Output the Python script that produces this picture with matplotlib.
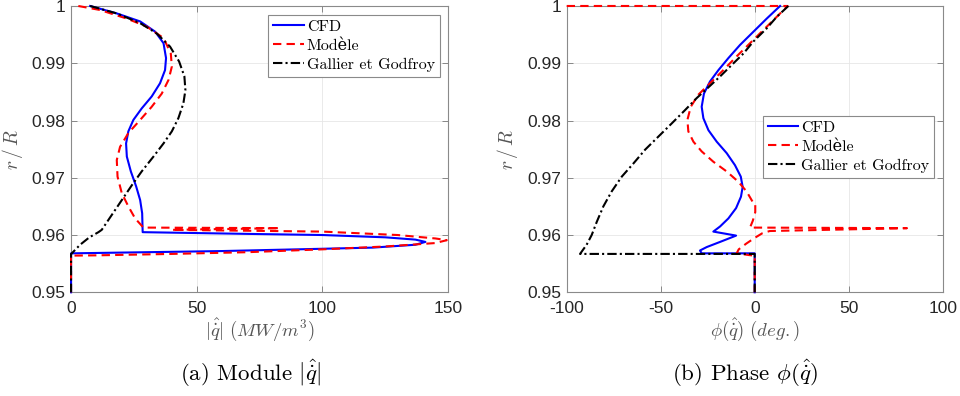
import matplotlib
matplotlib.use('Agg')
import matplotlib.pyplot as plt

plt.rcParams['font.family'] = ['Liberation Sans', 'DejaVu Sans']
plt.rcParams['font.size'] = 12.5
plt.rcParams['mathtext.fontset'] = 'cm'
plt.rcParams['axes.unicode_minus'] = False

# ---- (a) module |q| : (value, r/R) ----
mod_cfd_q = [7.6, 18.2, 27.5, 33.5, 36.8, 37.8, 37.4, 35.4, 32.1, 28.1, 24.8, 22.8, 21.9, 22.2,
             23.8, 25.9, 27.5, 28.3, 28.5, 70, 100, 125, 137, 141, 137, 120, 90, 60, 30, 0, 0]
mod_cfd_r = [1.0, 0.9987, 0.9973, 0.9955, 0.9935, 0.9909, 0.9888, 0.9865, 0.9842, 0.9821, 0.9801,
             0.9781, 0.976, 0.9737, 0.9711, 0.9685, 0.9661, 0.9638, 0.9605, 0.9602, 0.9600, 0.9596,
             0.9592, 0.9588, 0.9583, 0.9578, 0.9575, 0.9572, 0.9570, 0.9568, 0.95]

mod_model_q = [2.9, 11.5, 22.2, 30.1, 36.8, 39.7, 40.1, 38.8, 36.1, 32.1, 27.5, 22.8, 19.5, 18.2,
               18.5, 20.2, 22.8, 25.5, 28.8, 83, 40, 100, 130, 145, 149.5, 145, 125, 100, 70, 40,
               10, 0, 0]
mod_model_r = [1.0, 0.9993, 0.9978, 0.9964, 0.9944, 0.9917, 0.9894, 0.9871, 0.9847, 0.9824, 0.9801,
               0.9778, 0.9754, 0.9731, 0.9702, 0.9673, 0.965, 0.9629, 0.9613, 0.9612, 0.9609,
               0.9606, 0.9600, 0.9594, 0.9591, 0.9586, 0.9580, 0.9575, 0.9570, 0.9567, 0.95645,
               0.9564, 0.95]

mod_gg_q = [7.6, 18.2, 27.5, 34.1, 39.4, 43.0, 45.1, 45.5, 44.7, 42.7, 40.1, 36.8, 32.8, 28.1,
            24.2, 20.2, 16.2, 12.2, 10.9, 7.3, 3.6, 0.3, 0, 0]
mod_gg_r = [1.0, 0.9987, 0.997, 0.9952, 0.9929, 0.9903, 0.9877, 0.9853, 0.983, 0.9804, 0.9781,
            0.976, 0.9737, 0.9711, 0.9687, 0.9661, 0.9635, 0.9609, 0.9605, 0.9596, 0.9583,
            0.9568, 0.9567, 0.95]

# ---- (b) phase phi(q) in degrees ----
ph_cfd_q = [13.5, 6.4, -0.7, -7.8, -14.0, -19.3, -23.8, -27.0, -28.2, -27.3, -24.6, -20.2, -14.9,
            -10.5, -7.4, -6.4, -7.3, -9.9, -14.0, -18.4, -22.0, -9.9, -18.4, -25.5, -29.1, -28.2,
            0, 0]
ph_cfd_r = [1.0, 0.9978, 0.9955, 0.9932, 0.9909, 0.9888, 0.9868, 0.9847, 0.9824, 0.9804, 0.9783,
            0.9763, 0.9743, 0.9722, 0.9702, 0.9684, 0.9667, 0.9647, 0.9629, 0.9615, 0.9606,
            0.9599, 0.9588, 0.9579, 0.9573, 0.9568, 0.9568, 0.95]

ph_model_q = [-100, 17.5, 11.7, 4.6, -2.5, -9.6, -16.7, -23.8, -30.0, -34.0, -35.8, -35.3, -32.6,
              -28.2, -22.0, -14.9, -8.7, -4.3, -1.1, 0.3, 0.3, -1.0, -2.5, 81, 8, 4, 0, -4.5,
              -8.5, -9.6, -3, 0, 0]
ph_model_r = [1.0, 1.0, 0.9981, 0.9958, 0.9935, 0.9912, 0.9888, 0.9865, 0.9845, 0.9824, 0.9801,
              0.9781, 0.9763, 0.9746, 0.9728, 0.9711, 0.9693, 0.9676, 0.9658, 0.9655, 0.9640,
              0.9625, 0.9613, 0.9612, 0.9607, 0.9603, 0.9595, 0.9585, 0.9575, 0.9568, 0.9565,
              0.9564, 0.95]

ph_gg_q = [17.9, 11.7, 6.4, -0.7, -6.0, -12.2, -18.4, -24.6, -30.9, -37.1, -44.1, -51.2, -58.3,
           -64.5, -70.7, -76.1, -80.5, -84.0, -86.7, -89.4, -92.9, 0, 0]
ph_gg_r = [1.0, 0.9981, 0.9961, 0.9938, 0.9917, 0.9897, 0.9877, 0.9858, 0.9839, 0.9818, 0.9795,
           0.9772, 0.9749, 0.9725, 0.9702, 0.9676, 0.965, 0.9623, 0.96, 0.9583, 0.9567, 0.9567,
           0.95]

labels = ['CFD', 'Modèle', 'Gallier et Godfroy']
r_ticks = [0.95, 0.96, 0.97, 0.98, 0.99, 1.0]
r_ticklabels = ['0.95', '0.96', '0.97', '0.98', '0.99', '1']
mod_ticks = [0, 50, 100, 150]
ph_ticks = [-100, -50, 0, 50, 100]

serif = ['cmr10', 'DejaVu Serif']

fig = plt.figure(figsize=(9.6, 3.96), dpi=100)
ax1 = fig.add_axes([0.074, 0.2619, 0.3927, 0.723])
ax2 = fig.add_axes([0.5903, 0.2619, 0.3917, 0.723])


def draw(ax, data, xlim, xticks, xlabel, legend_anchor):
    (q1, r1), (q2, r2), (q3, r3) = data
    ax.plot(q1, r1, color='b', lw=1.5, label=labels[0], clip_on=False, zorder=3)
    ax.plot(q2, r2, color='r', lw=1.5, dashes=(4, 2.5), label=labels[1], clip_on=False, zorder=3)
    ax.plot(q3, r3, color='k', lw=1.5, dashes=(4.5, 1.5, 1, 1.5), label=labels[2],
            clip_on=False, zorder=3)
    ax.set_xlim(xlim)
    ax.set_ylim(0.95, 1.0)
    ax.set_xticks(xticks)
    ax.set_xticklabels([str(t) for t in xticks])
    ax.set_yticks(r_ticks)
    ax.set_yticklabels(r_ticklabels)
    ax.tick_params(direction='in', length=4, width=0.6, color='#777777', labelcolor='#262626',
                   top=True, right=True)
    ax.tick_params(axis='x', pad=6)
    ax.tick_params(axis='y', pad=4)
    ax.grid(True, color='#e6e6e6', lw=0.6)
    ax.set_axisbelow(True)
    for s in ax.spines.values():
        s.set_color('#8a8a8a')
        s.set_linewidth(0.8)
    ax.set_xlabel(xlabel, fontsize=13.5, color='#555555', labelpad=1)
    ax.set_ylabel(r'$r\,/\,R$', fontsize=14, color='#555555', labelpad=5)
    leg = ax.legend(loc='upper right', bbox_to_anchor=legend_anchor, borderaxespad=0,
                    prop={'family': serif, 'size': 11.5}, frameon=True, fancybox=False,
                    edgecolor='#8a8a8a', framealpha=1, handlelength=1.9, handletextpad=0.2,
                    borderpad=0.3, labelspacing=0.3)
    leg.get_frame().set_linewidth(0.8)


draw(ax1, [(mod_cfd_q, mod_cfd_r), (mod_model_q, mod_model_r), (mod_gg_q, mod_gg_r)],
     (0, 150), mod_ticks, r'$|\hat{\dot{q}}|\ (MW/m^3)$', (0.978, 0.969))
draw(ax2, [(ph_cfd_q, ph_cfd_r), (ph_model_q, ph_model_r), (ph_gg_q, ph_gg_r)],
     (-100, 100), ph_ticks, r'$\phi(\hat{\dot{q}})\ (deg.)$', (0.977, 0.616))

fig.text(0.2615, 0.058, r'(a) Module $|\hat{\dot{q}}|$', family=serif, fontsize=16.5,
         ha='center', va='center')
fig.text(0.776, 0.058, r'(b) Phase $\phi(\hat{\dot{q}})$', family=serif, fontsize=16.5,
         ha='center', va='center')

fig.savefig('out.png', dpi=100)
